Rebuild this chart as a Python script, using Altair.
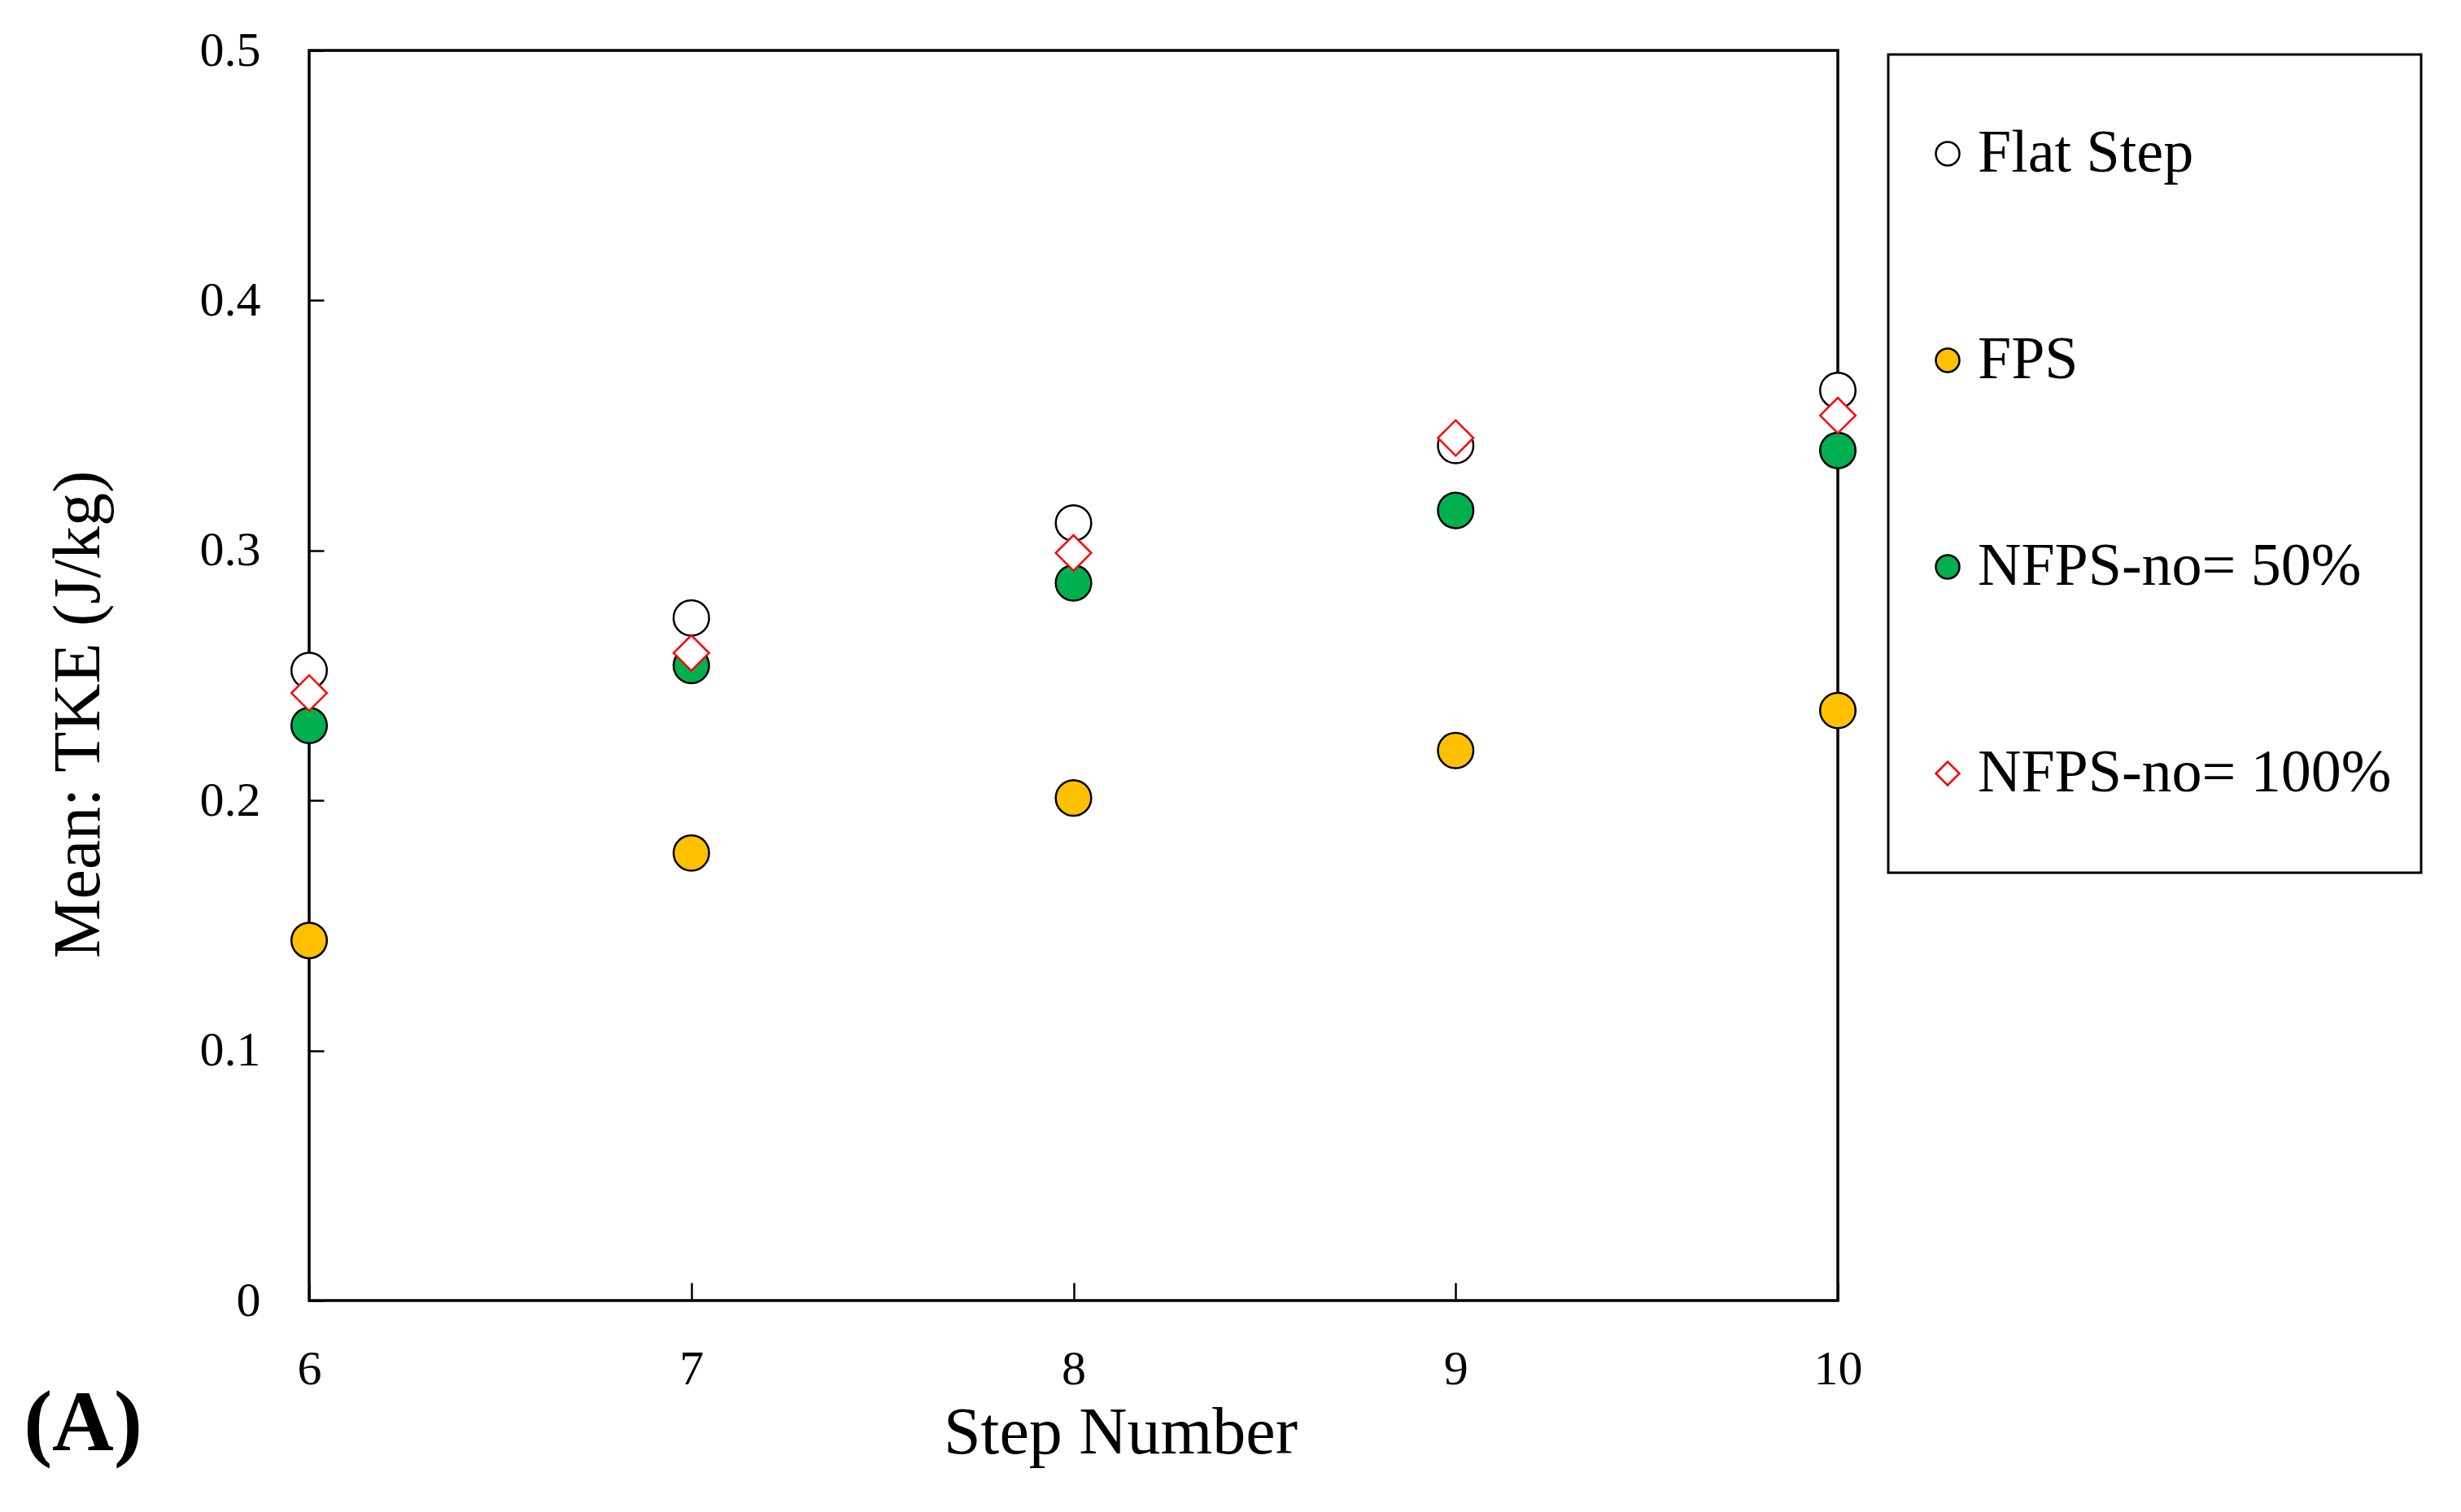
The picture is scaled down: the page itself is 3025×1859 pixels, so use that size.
import altair as alt
import pandas as pd

steps = [6, 7, 8, 9, 10]
series_names = ["Flat Step", "FPS", "NFPS-no= 50%", "NFPS-no= 100%"]
flat_step = [0.252, 0.273, 0.311, 0.342, 0.364]
fps = [0.144, 0.179, 0.201, 0.220, 0.236]
nfps_50 = [0.230, 0.254, 0.287, 0.316, 0.340]
nfps_100 = [0.243, 0.259, 0.299, 0.345, 0.354]
y_ticks = [0, 0.1, 0.2, 0.3, 0.4, 0.5]

shapes = ["circle", "circle", "circle", "diamond"]
fills = ["white", "#FFC000", "#00B050", "white"]
strokes = ["black", "black", "black", "#FF0000"]

rows = []
for name, vals in zip(series_names, [flat_step, fps, nfps_50, nfps_100]):
    for s, v in zip(steps, vals):
        rows.append({"step": s, "tke": v, "series": name})
df = pd.DataFrame(rows)

FONT = "Liberation Serif"

legend = alt.Legend(
    title=None,
    orient="none",
    legendX=1941,
    legendY=5,
    padding=36,
    clipHeight=172,
    rowPadding=82,
    strokeColor="black",
    labelFont=FONT,
    labelFontSize=74,
    labelColor="black",
    labelOffset=0,
    labelLimit=2000,
    symbolSize=841,
    symbolStrokeWidth=2.5,
)

points = alt.Chart(df).mark_point(filled=True, opacity=1, size=1900, strokeWidth=2.5).encode(
    x=alt.X(
        "step:Q",
        scale=alt.Scale(domain=[6, 10], nice=False, zero=False),
        axis=alt.Axis(
            values=steps, format="d", title="Step Number",
            ticks=False, tickSize=0, domain=False, labelFlush=False,
            grid=True, gridColor="black", gridWidth=2.5, gridDash=[0, 1515, 22, 5000], gridOpacity=1,
            labelFont=FONT, labelFontSize=60, labelColor="black", labelPadding=55,
            titleFont=FONT, titleFontSize=82, titleFontWeight="normal", titleColor="black",
            titlePadding=8, titleX=997, titleAlign="center",
        ),
    ),
    y=alt.Y(
        "tke:Q",
        scale=alt.Scale(domain=[0, 0.5], nice=False),
        axis=alt.Axis(
            values=y_ticks, format="~g", title="Mean: TKE (J/kg)",
            ticks=False, tickSize=0, domain=False, labelFlush=False,
            grid=True, gridColor="black", gridWidth=2.5, gridDash=[18, 5000], gridOpacity=1,
            labelFont=FONT, labelFontSize=60, labelColor="black", labelPadding=60,
            titleFont=FONT, titleFontSize=82, titleFontWeight="normal", titleColor="black",
            titleX=-284, titleY=816, titleAlign="center", titleBaseline="middle",
        ),
    ),
    shape=alt.Shape("series:N", scale=alt.Scale(domain=series_names, range=shapes), legend=legend),
    fill=alt.Fill("series:N", scale=alt.Scale(domain=series_names, range=fills), legend=legend),
    stroke=alt.Stroke("series:N", scale=alt.Scale(domain=series_names, range=strokes), legend=legend),
)

panel = alt.Chart(pd.DataFrame({"label": ["(A)"]})).mark_text(
    font=FONT, fontSize=105, fontWeight="bold", color="black", align="center", baseline="middle"
).encode(
    x=alt.value(-278), y=alt.value(1689), text="label:N"
)

chart = alt.layer(points, panel).properties(
    width=1879,
    height=1537,
    autosize=alt.AutoSizeParams(type="none"),
    padding={"left": 372, "top": 54, "right": 740, "bottom": 240},
).configure_view(
    stroke="black", strokeWidth=3.5
).configure_legend(strokeWidth=3)

chart.save("out.html", embed_options={"renderer": "svg", "actions": False})
